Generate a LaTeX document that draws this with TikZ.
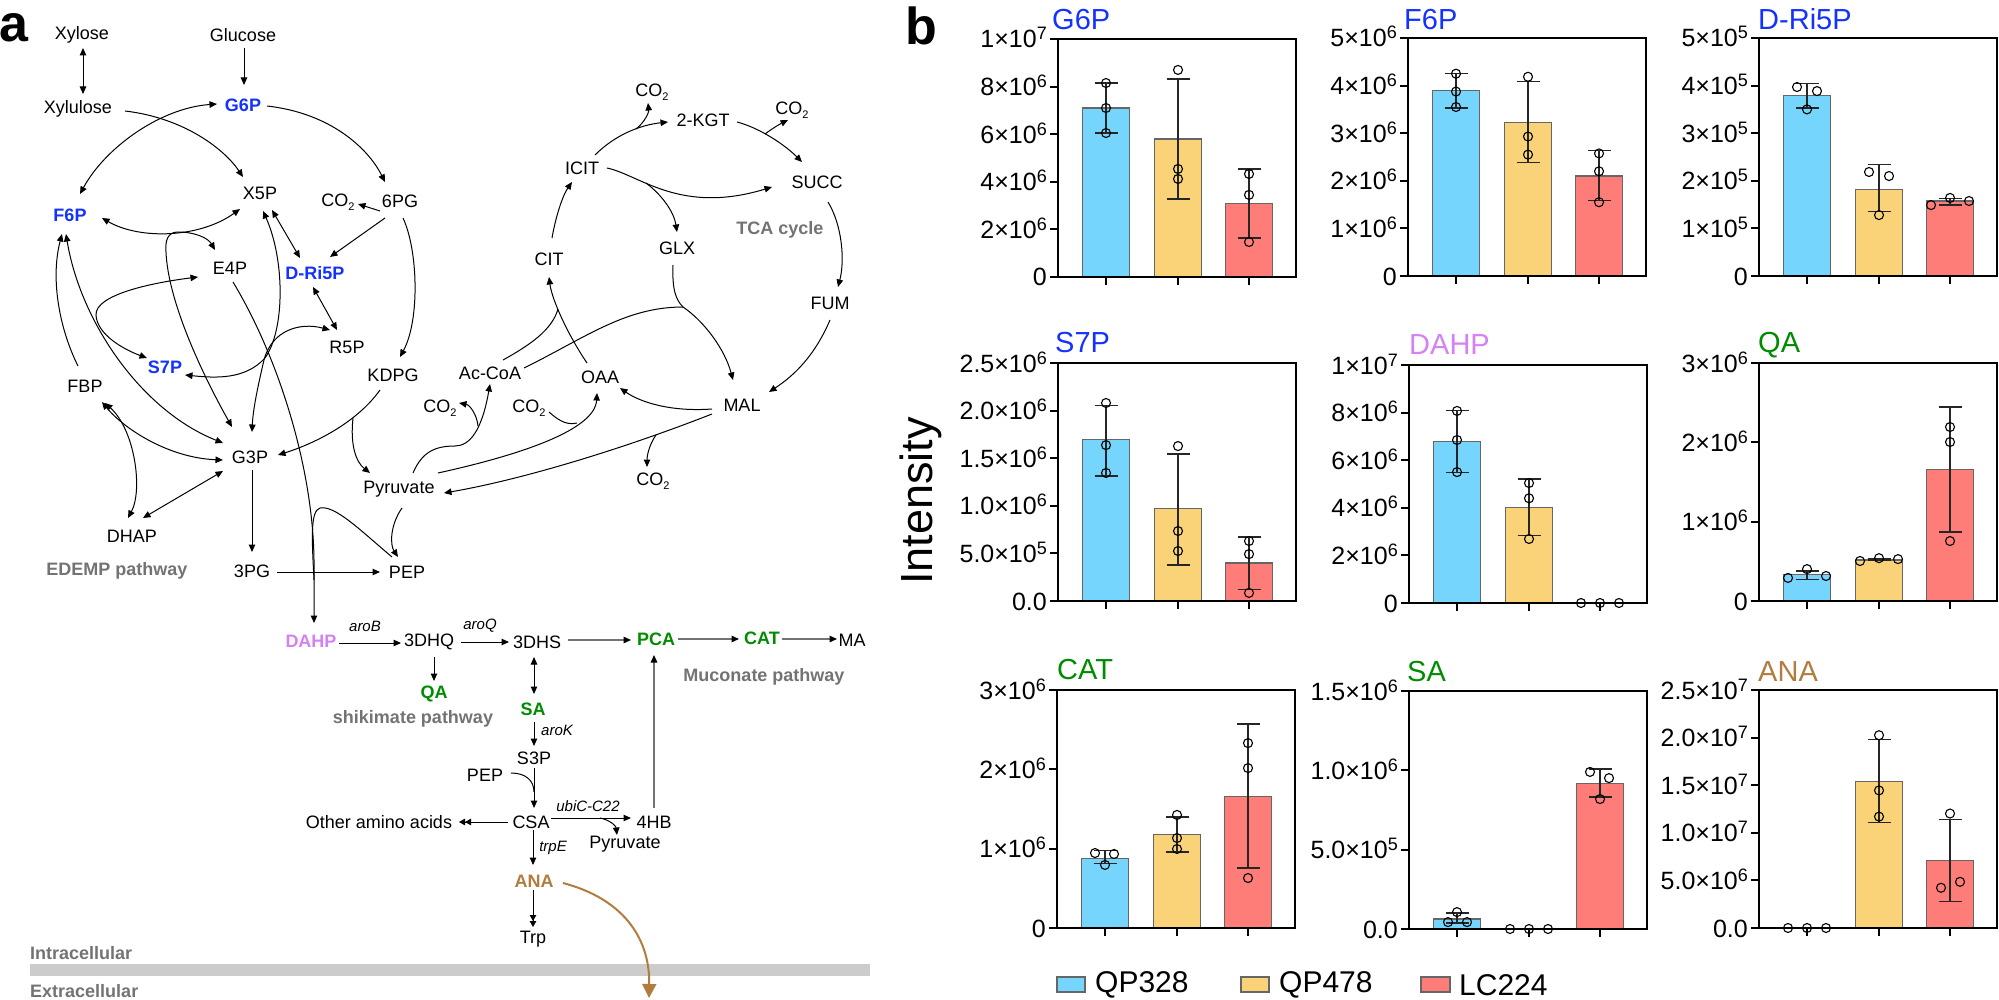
\documentclass[tikz,border=0pt]{standalone}
\usepackage{fontspec}
\setmainfont{Liberation Sans}
\usetikzlibrary{arrows.meta,calc}
\definecolor{pblue}{RGB}{20,50,255}
\definecolor{pgreen}{RGB}{0,140,0}
\definecolor{pviolet}{RGB}{214,128,245}
\definecolor{pbrown}{RGB}{176,125,62}
\definecolor{pgray}{RGB}{115,115,115}
\definecolor{bblue}{RGB}{117,213,252}
\definecolor{byellow}{RGB}{250,211,120}
\definecolor{bred}{RGB}{255,125,120}
\definecolor{bandgray}{RGB}{204,204,204}
\newcommand\sci[2]{#1\raisebox{8pt}{\fontsize{18}{18}\selectfont #2}}
\newcommand\cotwo{CO\raisebox{-4pt}{\fontsize{11}{11}\selectfont 2}}
\newcommand\cbar[3]{\draw[barln, fill=#3] (#1-23.5,0) rectangle (#1+23.5,#2);}
\newcommand\cerr[3]{\draw[errln] (#1,#2) -- (#1,#3) (#1-11.5,#2) -- (#1+11.5,#2) (#1-11.5,#3) -- (#1+11.5,#3);}
\newcommand\cpts[2]{\foreach \dx/\v in {#2} {\draw[ptln] (#1+\dx,\v) circle[radius=4.5pt];}}
\newcommand\caxes[2]{%
  \foreach \f/\lab [count=\i] in {#2} {\draw[tickln] (0,\f) -- (-8,\f); \node[ticklab] (#1t\i) at (-8,\f) {\lab};}
  \foreach \bx in {48,120,191} {\draw[tickln] (\bx,0) -- (\bx,-0.034);}
  \draw[boxln] (0,0) rectangle (238,1);}
\begin{document}
\begin{tikzpicture}[x=1pt,y=-1pt,
  met/.style={font=\fontsize{18}{21}\selectfont, inner sep=0pt},
  bmet/.style={font=\fontsize{18}{21}\selectfont\bfseries, inner sep=0pt, text=pblue},
  gmet/.style={font=\fontsize{18}{21}\selectfont\bfseries, inner sep=0pt, text=pgreen},
  lab/.style={font=\fontsize{15}{17}\selectfont\itshape, inner sep=0pt},
  pw/.style={font=\fontsize{18}{21}\selectfont\bfseries, inner sep=0pt, text=pgray},
  rx/.style={line width=1pt, -{Triangle[length=7.5pt,width=6.5pt]}},
  bi/.style={line width=1pt, {Triangle[length=7.5pt,width=6.5pt]}-{Triangle[length=7.5pt,width=6.5pt]}},
  ln/.style={line width=1pt},
  grx/.style={line width=1.3pt, draw=black!55, -{Triangle[length=7.5pt,width=6.5pt,color=black]}},
  dbl/.style={line width=1pt, -{Triangle[length=6pt,width=6.5pt]Triangle[length=6pt,width=6.5pt]}},
  barln/.style={line width=1.2pt, draw=black!60},
  errln/.style={line width=1.2pt, draw=black!85},
  ptln/.style={line width=1.1pt, draw=black},
  tickln/.style={line width=2pt},
  boxln/.style={line width=2.3pt},
  ticklab/.style={font=\fontsize{25}{28}\selectfont, anchor=base east, inner sep=0pt, xshift=-3pt, yshift=-9pt},
  ctitle/.style={font=\fontsize{29}{32}\selectfont, inner sep=0pt, anchor=west},
  legtext/.style={font=\fontsize{30}{33}\selectfont, inner sep=0pt, anchor=west},
  plab/.style={font=\fontsize{52}{56}\selectfont\bfseries, inner sep=0pt, anchor=base west}
]
\useasboundingbox (0,0) rectangle (1999,1000);
% ---------------- panel a ----------------
\node[plab] (pa) at (-1,42) {a};
\fill[bandgray] (30,964) rectangle (870,976);
\node[met] (Xylose) at (82,35) {Xylose};
\node[met] (Glucose) at (243,35) {Glucose};
\node[met] (Xylulose) at (78,109) {Xylulose};
\node[bmet] (G6P) at (243,105) {G6P};
\node[met] (X5P) at (260,193) {X5P};
\node[met] (CO2a) at (338,202) {\cotwo};
\node[met] (PG6) at (400,201) {6PG};
\node[bmet] (F6P) at (70,215) {F6P};
\node[met] (E4P) at (230,268) {E4P};
\node[bmet] (DRi5P) at (315,273) {D-Ri5P};
\node[met] (CO2b) at (652,92) {\cotwo};
\node[met] (KGT) at (703,120) {2-KGT};
\node[met] (CO2c) at (792,110) {\cotwo};
\node[met] (ICIT) at (582,168) {ICIT};
\node[met] (SUCC) at (817,182) {SUCC};
\node[pw] (TCA) at (780,230) {TCA cycle};
\node[met] (GLX) at (677,248) {GLX};
\node[met] (CIT) at (549,259) {CIT};
\node[met] (FUM) at (830,303) {FUM};
\node[bmet] (S7P) at (165,367) {S7P};
\node[met] (FBP) at (85,386) {FBP};
\node[met] (R5P) at (347,347) {R5P};
\node[met] (KDPG) at (393,375) {KDPG};
\node[met] (G3P) at (250,457) {G3P};
\node[met] (Pyr) at (399,489) {Pyruvate};
\node[met] (DHAP) at (132,536) {DHAP};
\node[pw] (EDEMP) at (117,571) {EDEMP pathway};
\node[met] (PG3) at (252,571) {3PG};
\node[met] (PEP) at (407,572) {PEP};
\node[met] (AcCoA) at (490,373) {Ac-CoA};
\node[met] (OAA) at (600,377) {OAA};
\node[met] (MAL) at (742,405) {MAL};
\node[met] (CO2d) at (440,408) {\cotwo};
\node[met] (CO2e) at (529,408) {\cotwo};
\node[met] (CO2f) at (653,481) {\cotwo};
\node[font=\fontsize{18}{21}\selectfont\bfseries, inner sep=0pt, text=pviolet] (DAHP) at (311,641) {DAHP};
\node[lab] (aroB) at (365,626) {aroB};
\node[met] (DHQ) at (429,642) {3DHQ};
\node[lab] (aroQ) at (480,626) {aroQ};
\node[met] (DHS) at (537,642) {3DHS};
\node[gmet] (PCA) at (656,639) {PCA};
\node[gmet] (CAT) at (762,638) {CAT};
\node[met] (MA) at (852,640) {MA};
\node[pw] (Muc) at (764,677) {Muconate pathway};
\node[gmet] (QA) at (434,694) {QA};
\node[pw] (Shik) at (413,719) {shikimate pathway};
\node[gmet] (SA) at (533,709) {SA};
\node[lab] (aroK) at (557,730) {aroK};
\node[met] (S3P) at (534,758) {S3P};
\node[met] (PEPb) at (485,775) {PEP};
\node[met] (CSA) at (531,822) {CSA};
\node[met] (Other) at (379,822) {Other amino acids};
\node[lab] (ubiC) at (588,806) {ubiC-C22};
\node[met] (HB4) at (654,822) {4HB};
\node[met] (Pyrb) at (625,844) {Pyruvate};
\node[lab] (trpE) at (553,848) {trpE};
\node[font=\fontsize{18}{21}\selectfont\bfseries, inner sep=0pt, text=pbrown] (ANA) at (534,881) {ANA};
\node[met] (Trp) at (533,939) {Trp};
\node[pw, anchor=west] (Intra) at (30,953) {Intracellular};
\node[pw, anchor=west] (Extra) at (30,991) {Extracellular};
% connectors upper
\draw[bi] ($(Xylose)+(1,13)$) -- ($(Xylulose)+(5,-15)$);
\draw[rx] ($(Glucose)+(1,13)$) -- ($(G6P)+(1,-20)$);
\draw[rx] ($(Xylulose)+(47,2)$) .. controls (185,118) and (225,150) .. ($(X5P)+(-17,-16)$);
\draw[bi] ($(F6P)+(10,-21)$) .. controls (105,148) and (160,108) .. ($(G6P)+(-26,-1)$);
\draw[rx] ($(G6P)+(24,1)$) .. controls (330,113) and (368,148) .. ($(PG6)+(-15,-19)$);
\draw[rx] ($(PG6)+(-20,10)$) -- ($(CO2a)+(20,2)$);
\draw[rx] ($(PG6)+(-15,17)$) -- ($(DRi5P)+(15,-16)$);
\draw[bi] ($(X5P)+(12,17)$) -- ($(DRi5P)+(-15,-15)$);
\draw[bi] ($(F6P)+(32,3)$) .. controls (140,240) and (200,238) .. ($(X5P)+(-20,16)$);
\coordinate (tk1) at (178,232);
\draw[rx] (tk1) .. controls (195,232) and (208,238) .. ($(E4P)+(-15,-18)$);
\draw[rx] (tk1) .. controls (168,232) and (165,240) .. (166,252) .. controls (168,300) and (200,370) .. ($(G3P)+(-18,-30)$);
\draw[bi] ($(E4P)+(-32,9)$) .. controls (150,283) and (95,295) .. (96,315) .. controls (97,335) and (125,350) .. ($(S7P)+(-18,-9)$);
\draw[rx] ($(FBP)+(-7,-20)$) .. controls (60,330) and (50,280) .. ($(F6P)+(-8,19)$);
\draw[bi] ($(F6P)+(-4,19)$) .. controls (80,320) and (140,410) .. ($(G3P)+(-27,-14)$);
\draw[bi] ($(FBP)+(17,16)$) .. controls (125,430) and (170,458) .. ($(G3P)+(-27,3)$);
\draw[bi] ($(FBP)+(20,17)$) .. controls (135,430) and (143,490) .. ($(DHAP)+(-4,-18)$);
\draw[bi] ($(DHAP)+(11,-18)$) -- ($(G3P)+(-27,14)$);
\draw[bi] ($(X5P)+(3,18)$) .. controls (285,260) and (285,330) .. (265,358) .. controls (245,380) and (215,378) .. ($(S7P)+(20,8)$);
\draw[bi] ($(R5P)+(-17,-17)$) .. controls (300,322) and (272,330) .. (264,360) .. controls (257,390) and (253,410) .. ($(G3P)+(2,-25)$);
\draw[bi] ($(DRi5P)+(-2,14)$) -- ($(R5P)+(-10,-17)$);
\draw[rx] ($(PG6)+(3,17)$) .. controls (418,250) and (420,320) .. ($(KDPG)+(7,-18)$);
\draw[rx] ($(KDPG)+(-13,15)$) .. controls (355,425) and (310,445) .. ($(G3P)+(28,-2)$);
\coordinate (kj) at (353,418);
\draw[rx] (kj) .. controls (350,445) and (356,462) .. ($(Pyr)+(-29,-16)$);
\draw[rx] ($(G3P)+(2,13)$) -- ($(PG3)+(0,-19)$);
\draw[rx] ($(PG3)+(25,1)$) -- ($(PEP)+(-27,0)$);
\draw[rx] ($(Pyr)+(3,19)$) .. controls (390,525) and (390,545) .. ($(PEP)+(-9,-15)$);
\draw[rx] ($(E4P)+(3,14)$) .. controls (280,360) and (313,470) .. (314,560) -- ($(DAHP)+(3,-18)$);
\coordinate (dj) at (314,580);
\draw[ln] ($(PEP)+(-15,-15)$) .. controls (360,530) and (335,505) .. (320,508) .. controls (310,511) and (312,540) .. (dj);
\draw[rx] ($(Pyr)+(14,-16)$) .. controls (422,452) and (435,446) .. (455,446) .. controls (470,446) and (482,430) .. ($(AcCoA)+(0,11)$);
\coordinate (aj) at (478,426);
\draw[rx] (aj) .. controls (477,415) and (470,405) .. ($(CO2d)+(19,-5)$);
\draw[rx] ($(Pyr)+(39,-16)$) .. controls (520,455) and (595,430) .. ($(OAA)+(-3,16)$);
\coordinate (oj) at (577,423);
\draw[ln] ($(CO2e)+(20,4)$) .. controls (556,418) and (565,426) .. (oj);
\draw[rx] ($(MAL)+(-30,4)$) .. controls (670,412) and (640,402) .. ($(OAA)+(20,11)$);
\draw[rx] ($(MAL)+(-30,9)$) .. controls (620,450) and (520,480) .. ($(Pyr)+(45,4)$);
\coordinate (mj) at (656,435);
\draw[rx] (mj) .. controls (649,445) and (647,456) .. ($(CO2f)+(-6,-14)$);
\draw[rx] ($(FUM)+(0,17)$) .. controls (815,355) and (795,375) .. ($(MAL)+(27,-13)$);
\draw[rx] ($(OAA)+(-13,-14)$) .. controls (568,335) and (552,300) .. ($(CIT)+(0,18)$);
\coordinate (cj) at (558,309);
\draw[ln] ($(AcCoA)+(13,-13)$) .. controls (530,345) and (552,330) .. (cj);
\coordinate (gj) at (683,307);
\draw[ln] ($(AcCoA)+(34,-5)$) .. controls (585,338) and (625,307) .. (gj);
\draw[rx] ($(GLX)+(-4,17)$) .. controls (672,290) and (676,300) .. (gj) .. controls (705,322) and (725,350) .. ($(MAL)+(-9,-25)$);
\draw[rx] ($(CIT)+(3,-21)$) .. controls (556,215) and (563,195) .. ($(ICIT)+(-10,14)$);
\draw[rx] ($(ICIT)+(13,-13)$) .. controls (615,135) and (640,125) .. ($(KGT)+(-35,2)$);
\coordinate (ij) at (636,129);
\draw[rx] (ij) .. controls (645,122) and (649,112) .. ($(CO2b)+(-4,11)$);
\draw[rx] ($(KGT)+(34,2)$) .. controls (760,128) and (785,145) .. ($(SUCC)+(-15,-20)$);
\coordinate (sj) at (765,134);
\draw[rx] (sj) .. controls (773,128) and (780,124) .. ($(CO2c)+(-4,10)$);
\draw[rx] ($(ICIT)+(25,0)$) .. controls (640,175) and (680,215) .. ($(SUCC)+(-45,5)$);
\coordinate (gj2) at (646,183);
\draw[rx] (gj2) .. controls (662,195) and (674,212) .. ($(GLX)+(0,-16)$);
\draw[rx] ($(SUCC)+(11,20)$) .. controls (842,225) and (845,260) .. ($(FUM)+(8,-16)$);
% connectors lower
\draw[rx] ($(DAHP)+(28,2)$) -- ($(DHQ)+(-28,1)$);
\draw[rx] ($(DHQ)+(32,0)$) -- ($(DHS)+(-28,0)$);
\draw[grx] ($(DHS)+(31,-2)$) -- ($(PCA)+(-25,1)$);
\draw[grx] ($(PCA)+(22,0)$) -- ($(CAT)+(-23,1)$);
\draw[grx] ($(CAT)+(20,1)$) -- ($(MA)+(-15,-1)$);
\draw[rx] ($(DHQ)+(5,15)$) -- ($(QA)+(0,-13)$);
\draw[bi] ($(DHS)+(-3,15)$) -- ($(SA)+(1,-15)$);
\draw[rx] ($(SA)+(1,13)$) -- ($(S3P)+(0,-12)$);
\draw[rx] ($(S3P)+(0,10)$) -- ($(CSA)+(3,-14)$);
\coordinate (pj) at (534,792);
\draw[ln] ($(PEPb)+(26,-2)$) .. controls (525,773) and (534,780) .. (pj);
\draw[dbl] ($(CSA)+(-23,0)$) -- ($(Other)+(80,0)$);
\draw[rx] ($(CSA)+(20,-4)$) -- ($(HB4)+(-23,-4)$);
\coordinate (hj) at (600,818);
\draw[rx] (hj) .. controls (610,820) and (616,826) .. ($(Pyrb)+(-8,-9)$);
\draw[grx] ($(HB4)+(0,-14)$) -- ($(PCA)+(-2,16)$);
\draw[rx] ($(CSA)+(2,8)$) -- ($(ANA)+(-1,-16)$);
\draw[dbl] ($(ANA)+(-1,9)$) -- ($(Trp)+(0,-12)$);
\coordinate (out) at (649,998);
\draw[line width=2pt, draw=pbrown, -{Triangle[length=14pt,width=14pt]}] ($(ANA)+(29,2)$) .. controls (620,898) and (650,935) .. (out);
% ---------------- panel b ----------------
\node[plab] (pb) at (905,45) {b};
\node[font=\fontsize{45}{48}\selectfont, inner sep=0pt, rotate=90] (ylab) at (921,501) {Intensity};
% G6P
\node[ctitle, text=pblue] (tG6P) at (1052,20) {G6P};
\begin{scope}[shift={(1058,277)}, y=238pt]
 \cbar{48}{0.71}{bblue} \cbar{120}{0.58}{byellow} \cbar{191}{0.31}{bred}
 \cerr{48}{0.605}{0.815} \cerr{120}{0.328}{0.832} \cerr{191}{0.164}{0.454}
 \cpts{48}{0/0.815,0/0.71,0/0.605} \cpts{120}{0/0.87,0/0.454,0/0.412} \cpts{191}{0/0.433,0/0.345,0/0.147}
 \caxes{ga}{1/\sci{1×10}{7},0.8/\sci{8×10}{6},0.6/\sci{6×10}{6},0.4/\sci{4×10}{6},0.2/\sci{2×10}{6},0/0}
\end{scope}
% F6P
\node[ctitle, text=pblue] (tF6P) at (1404,20) {F6P};
\begin{scope}[shift={(1408,276)}, y=238pt]
 \cbar{48}{0.78}{bblue} \cbar{120}{0.645}{byellow} \cbar{191}{0.42}{bred}
 \cerr{48}{0.706}{0.85} \cerr{120}{0.477}{0.816} \cerr{191}{0.318}{0.527}
 \cpts{48}{0/0.85,0/0.775,0/0.71} \cpts{120}{0/0.837,0/0.586,0/0.51} \cpts{191}{0/0.515,0/0.44,0/0.31}
 \caxes{gb}{1/\sci{5×10}{6},0.8/\sci{4×10}{6},0.6/\sci{3×10}{6},0.4/\sci{2×10}{6},0.2/\sci{1×10}{6},0/0}
\end{scope}
% D-Ri5P
\node[ctitle, text=pblue] (tDRi5P) at (1758,19) {D-Ri5P};
\begin{scope}[shift={(1759,276)}, y=238pt]
 \cbar{48}{0.76}{bblue} \cbar{120}{0.365}{byellow} \cbar{191}{0.315}{bred}
 \cerr{48}{0.706}{0.81} \cerr{120}{0.27}{0.47} \cerr{191}{0.298}{0.324}
 \cpts{48}{-10/0.794,10/0.777,0/0.70} \cpts{120}{-10/0.437,10/0.42,0/0.256} \cpts{191}{-19/0.298,0/0.328,19/0.315}
 \caxes{gc}{1/\sci{5×10}{5},0.8/\sci{4×10}{5},0.6/\sci{3×10}{5},0.4/\sci{2×10}{5},0.2/\sci{1×10}{5},0/0}
\end{scope}
% S7P
\node[ctitle, text=pblue] (tS7P) at (1055,343) {S7P};
\begin{scope}[shift={(1058,601)}, y=238pt]
 \cbar{48}{0.68}{bblue} \cbar{120}{0.388}{byellow} \cbar{191}{0.16}{bred}
 \cerr{48}{0.525}{0.823} \cerr{120}{0.151}{0.618} \cerr{191}{0.05}{0.269}
 \cpts{48}{0/0.832,0/0.655,0/0.538} \cpts{120}{0/0.651,0/0.294,0/0.21} \cpts{191}{0/0.252,0/0.197,0/0.034}
 \caxes{gd}{1/\sci{2.5×10}{6},0.8/\sci{2.0×10}{6},0.6/\sci{1.5×10}{6},0.4/\sci{1.0×10}{6},0.2/\sci{5.0×10}{5},0/0.0}
\end{scope}
% DAHP
\node[ctitle, text=pviolet] (tDAHP) at (1409,345) {DAHP};
\begin{scope}[shift={(1409,603)}, y=238pt]
 \cbar{48}{0.68}{bblue} \cbar{120}{0.40}{byellow}
 \cerr{48}{0.55}{0.81} \cerr{120}{0.282}{0.521}
 \cpts{48}{0/0.807,0/0.685,0/0.55} \cpts{120}{0/0.504,0/0.44,0/0.269} \cpts{191}{-19/0,0/0,19/0}
 \caxes{ge}{1/\sci{1×10}{7},0.8/\sci{8×10}{6},0.6/\sci{6×10}{6},0.4/\sci{4×10}{6},0.2/\sci{2×10}{6},0/0}
\end{scope}
% QA
\node[ctitle, text=pgreen] (tQA) at (1758,345) {QA};
\begin{scope}[shift={(1759,601)}, y=238pt]
 \cbar{48}{0.11}{bblue} \cbar{120}{0.172}{byellow} \cbar{191}{0.553}{bred}
 \cerr{48}{0.092}{0.126} \cerr{120}{0.172}{0.18} \cerr{191}{0.29}{0.815}
 \cpts{48}{-19/0.097,0/0.134,19/0.105} \cpts{120}{-19/0.168,0/0.18,19/0.176} \cpts{191}{0/0.731,0/0.668,0/0.252}
 \caxes{gf}{1/\sci{3×10}{6},0.6667/\sci{2×10}{6},0.3333/\sci{1×10}{6},0/0}
\end{scope}
% CAT
\node[ctitle, text=pgreen] (tCAT) at (1057,670) {CAT};
\begin{scope}[shift={(1057,928)}, y=238pt]
 \cbar{48}{0.293}{bblue} \cbar{120}{0.393}{byellow} \cbar{191}{0.553}{bred}
 \cerr{48}{0.27}{0.324} \cerr{120}{0.319}{0.466} \cerr{191}{0.252}{0.857}
 \cpts{48}{-10/0.315,9/0.311,0/0.265} \cpts{120}{0/0.475,0/0.378,0/0.332} \cpts{191}{0/0.777,0/0.672,0/0.21}
 \caxes{gg}{1/\sci{3×10}{6},0.6667/\sci{2×10}{6},0.3333/\sci{1×10}{6},0/0}
\end{scope}
% SA
\node[ctitle, text=pgreen] (tSA) at (1407,672) {SA};
\begin{scope}[shift={(1409,929)}, y=238pt]
 \cbar{48}{0.042}{bblue} \cbar{191}{0.613}{bred}
 \cerr{48}{0.025}{0.067} \cerr{191}{0.555}{0.672}
 \cpts{48}{-9/0.029,0/0.071,10/0.029} \cpts{120}{-19/0,0/0,19/0} \cpts{191}{-10/0.66,9/0.634,0/0.546}
 \caxes{gh}{1/\sci{1.5×10}{6},0.6667/\sci{1.0×10}{6},0.3333/\sci{5.0×10}{5},0/0.0}
\end{scope}
% ANA
\node[ctitle, text=pbrown] (tANA) at (1758,672) {ANA};
\begin{scope}[shift={(1759,928)}, y=238pt]
 \cbar{120}{0.616}{byellow} \cbar{191}{0.283}{bred}
 \cerr{120}{0.443}{0.793} \cerr{191}{0.11}{0.456}
 \cpts{48}{-19/0,0/0,19/0} \cpts{120}{0/0.81,0/0.578,0/0.468} \cpts{191}{0/0.481,-9/0.169,10/0.194}
 \caxes{gi}{1/\sci{2.5×10}{7},0.8/\sci{2.0×10}{7},0.6/\sci{1.5×10}{7},0.4/\sci{1.0×10}{7},0.2/\sci{5.0×10}{6},0/0.0}
\end{scope}
% legend
\draw[barln, fill=bblue] (1057,977) rectangle (1085,992);
\node[legtext] (lg1) at (1095,985) {QP328};
\draw[barln, fill=byellow] (1241,977) rectangle (1269,992);
\node[legtext] (lg2) at (1279,985) {QP478};
\draw[barln, fill=bred] (1421,977) rectangle (1450,992);
\node[legtext] (lg3) at (1459,985) {LC224};
\end{tikzpicture}
\end{document}
